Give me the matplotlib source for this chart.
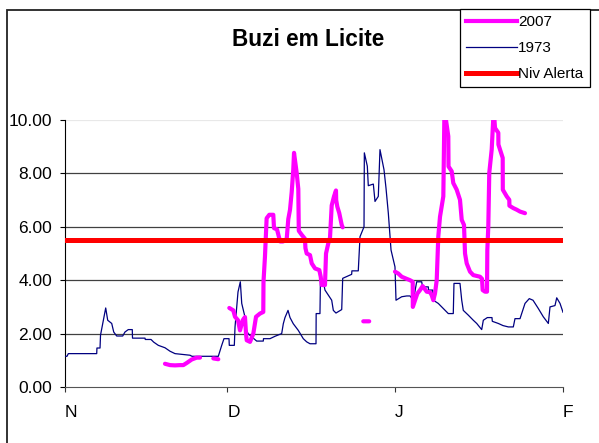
import numpy as np
import matplotlib
matplotlib.use("Agg")
from matplotlib import pyplot as plt
from matplotlib.lines import Line2D
from matplotlib.patches import Rectangle

plt.rcParams['font.family'] = ['Liberation Sans', 'DejaVu Sans']

# DATA (x = days since 1 November)
month_ticks = [0, 30, 61, 92]
month_labels = ["N", "D", "J", "F"]

days_1973 = [0.0, 0.37, 0.61, 5.86, 5.9, 6.47, 6.56, 7.52, 7.89, 8.63, 9.0, 9.55,
             10.66, 11.08, 11.69, 12.43, 12.47, 14.78, 14.83, 15.89, 16.39, 17.24,
             18.47, 19.4, 20.32, 23.09, 23.46, 28.32, 28.95, 29.37, 30.3, 30.35,
             31.28, 31.41, 31.96, 32.39, 32.65, 33.25, 33.53, 33.86, 34.55, 35.41,
             36.63, 36.67, 37.87, 38.8, 40.03, 40.33, 40.64, 41.2, 41.57, 42.17,
             43.1, 44.02, 44.65, 45.26, 46.37, 46.4, 47.1, 47.2, 47.66, 48.03,
             49.27, 49.57, 50.06, 51.12, 51.3, 52.96, 53.0, 54.18, 54.5, 55.24,
             55.3, 55.85, 56.03, 56.96, 57.27, 57.88, 58.19, 58.93, 59.3, 59.73,
             60.23, 60.96, 61.15, 62.2, 63.13, 63.74, 64.35, 64.97, 65.9, 66.05,
             67.12, 67.15, 67.93, 68.04, 68.96, 69.89, 70.81, 71.73, 71.86, 72.97,
             73.29, 73.58, 74.51, 75.43, 76.06, 76.98, 77.28, 78.02, 78.88, 78.94,
             80.05, 80.92, 81.9, 82.82, 83.13, 84.06, 84.98, 85.77, 86.46, 87.44,
             88.36, 89.29, 89.6, 90.52, 90.84, 91.45, 92.0]
level_1973 = [1.15, 1.15, 1.25, 1.25, 1.46, 1.46, 1.94, 2.96, 2.5, 2.38, 2.06, 1.91,
              1.91, 2.06, 2.15, 2.15, 1.83, 1.83, 1.78, 1.78, 1.68, 1.56,
              1.47, 1.34, 1.25, 1.19, 1.15, 1.15, 1.56, 1.81, 1.81, 1.56,
              1.56, 2.25, 3.56, 3.94, 3.13, 2.62, 2.12, 1.99, 1.87, 1.72,
              1.72, 1.81, 1.81, 1.9, 2.0, 2.37, 2.6, 2.87, 2.6, 2.37,
              2.12, 1.81, 1.69, 1.62, 1.62, 2.75, 2.75, 4.13, 4.0, 3.63,
              3.25, 2.87, 2.77, 2.9, 4.07, 4.22, 4.35, 4.35, 5.63, 6.0,
              8.77, 8.27, 7.54, 7.6, 6.95, 7.14, 8.89, 8.14, 7.45, 6.51,
              5.13, 4.5, 3.25, 3.38, 3.41, 3.41, 3.25, 3.94, 3.94, 3.75,
              3.75, 3.63, 3.63, 3.25, 3.13, 2.94, 2.75, 2.75, 3.88, 3.88,
              3.25, 2.87, 2.69, 2.5, 2.38, 2.15, 2.5, 2.6, 2.6, 2.46,
              2.38, 2.3, 2.25, 2.25, 2.56, 2.56, 3.13, 3.31, 3.25, 2.94,
              2.63, 2.38, 3.0, 3.05, 3.34, 3.13, 2.8]

nan = np.nan
days_2007 = [18.47, 19.4, 20.32, 21.25, 21.86, 22.49, 23.41, 24.33, 24.94, 26.0,
             27.4, 28.32, 29.5,
             30.35, 31.09, 31.41, 31.96, 32.33, 32.83, 33.25, 33.44, 33.57, 34.18,
             34.79, 35.29, 36.02, 36.63, 36.67, 36.94, 37.25, 37.74, 38.48, 38.61,
             39.17, 39.73, 40.29, 40.96, 41.25, 41.57, 41.88, 42.17, 42.31, 42.8,
             43.1, 43.19, 43.73, 44.33, 44.42, 44.65, 45.26, 45.58, 46.19, 46.98,
             47.24, 47.42, 48.03, 48.22, 48.64, 48.96, 49.27, 49.7, 50.06, 50.1,
             50.3, 50.67, 51.12, 51.3, 53.0,
             55.1, 56.2, 58.0,
             60.96, 61.57, 62.2, 63.13, 63.74, 64.24, 64.26, 64.67, 65.09, 65.59,
             66.08, 66.82, 67.43, 67.74, 68.04, 68.35, 68.67, 68.96, 69.28, 69.89,
             70.1, 70.81, 70.85, 71.44, 71.73, 72.36, 72.97, 73.29, 73.71, 73.9,
             74.21, 74.82, 75.43, 76.67, 77.04, 77.16, 77.59, 77.96, 78.02, 78.2,
             78.38, 78.83, 79.2, 79.44, 80.05, 80.07, 80.86, 80.88, 81.6, 82.08,
             82.1, 82.82, 83.45, 84.06, 84.98]
level_2007 = [0.87, 0.82, 0.81, 0.82, 0.82, 0.9, 1.03, 1.1, 1.1, nan,
              1.07, 1.04, nan,
              2.96, 2.87, 2.63, 2.5, 2.12, 2.5, 2.62, 2.0, 1.75, 1.69,
              2.0, 2.63, 2.75, 2.81, 3.94, 4.88, 6.32, 6.45, 6.45, 5.95,
              5.9, 5.45, 5.45, 5.55, 6.29, 6.64, 7.3, 8.14, 8.77, 8.02,
              7.42, 5.85, 5.7, 5.55, 5.2, 5.0, 4.94, 4.63, 4.44, 4.38,
              4.13, 3.82, 3.82, 5.0, 5.38, 5.6, 6.8, 7.14, 7.36, 7.0,
              6.76, 6.51, 6.07, 5.98, nan,
              2.46, 2.46, nan,
              4.32, 4.25, 4.13, 4.05, 4.0, 3.94, 3.0, 3.25, 3.5, 3.63,
              3.78, 3.57, 3.55, 3.44, 3.25, 3.5, 4.0, 5.63, 6.38, 7.14,
              10.4, 9.39, 8.26, 8.08, 7.64, 7.39, 7.01, 6.26, 6.07, 5.0,
              4.63, 4.32, 4.19, 4.13, 4.05, 3.63, 3.57, 3.57, 5.13, 6.01,
              8.02, 8.9, 10.4, 9.7, 9.52, 9.08, 8.58, 7.39, 7.14, 7.01,
              6.79, 6.7, 6.64, 6.57, 6.51]

alert_days = [0, 92]
alert_level = [5.5, 5.5]

# FIGURE
W, H = 599, 443
fig = plt.figure(figsize=(W / 100, H / 100), dpi=100)
ax = fig.add_axes([65 / W, 1 - 387 / H, (563 - 65) / W, (387 - 120) / H])

ax.plot(days_1973, level_1973, color="#000080", lw=0.9, zorder=3, label="1973")
ax.plot(days_2007, level_2007, color="#FF00FF", lw=3.0, zorder=4,
        solid_capstyle="round", solid_joinstyle="round", label="2007")
ax.plot(alert_days, alert_level, color="#FF0000", lw=3.6, zorder=5,
        label="Niv Alerta")

ax.set_xlim(0, 92)
ax.set_ylim(0, 10)
ax.set_yticks(np.arange(0, 10.1, 2))
ax.set_yticklabels(["%.2f" % v for v in np.arange(0, 10.1, 2)])
ax.set_xticks(month_ticks)
ax.set_xticklabels(month_labels)
for v in [2, 4, 6, 8]:
    ax.axhline(v, color="#404040", lw=0.9, zorder=1)
ax.axhline(10, color="#e8e8e8", lw=0.9, zorder=1)

for s in ["top", "right"]:
    ax.spines[s].set_visible(False)
ax.spines["left"].set_color("black")
ax.spines["bottom"].set_color("#555555")
ax.tick_params(axis="y", length=3.6, width=0.8, pad=5.5, labelsize=12.5)
ax.tick_params(axis="x", length=3.6, width=0.8, pad=9.5, labelsize=12.5,
               color="#333333")
for lab in ax.get_xticklabels():
    lab.set_horizontalalignment("left")

# outer chart border
fig.patches.append(Rectangle((7 / W, -0.1), 1.2, 1.1 - 10 / H, transform=fig.transFigure,
                             fill=False, edgecolor="#222222", lw=1.3))

fig.text(308 / W, 1 - 39 / H, "Buzi em Licite", fontsize=16.3, fontweight="bold",
         ha="center", va="center")

handles = [Line2D([], [], color="#FF00FF", lw=3.0),
           Line2D([], [], color="#000080", lw=0.9),
           Line2D([], [], color="#FF0000", lw=3.6)]
leg = fig.legend(handles, ["2007", "1973", "Niv Alerta"], loc="upper left",
                 bbox_to_anchor=(460 / W, 1 - 9 / H), fontsize=11,
                 frameon=True, fancybox=False, edgecolor="black", framealpha=1,
                 handlelength=3.3, handletextpad=0.12, borderpad=0.4,
                 labelspacing=0.78, borderaxespad=0)
leg.get_frame().set_linewidth(0.9)

fig.savefig("out.png", dpi=100)
